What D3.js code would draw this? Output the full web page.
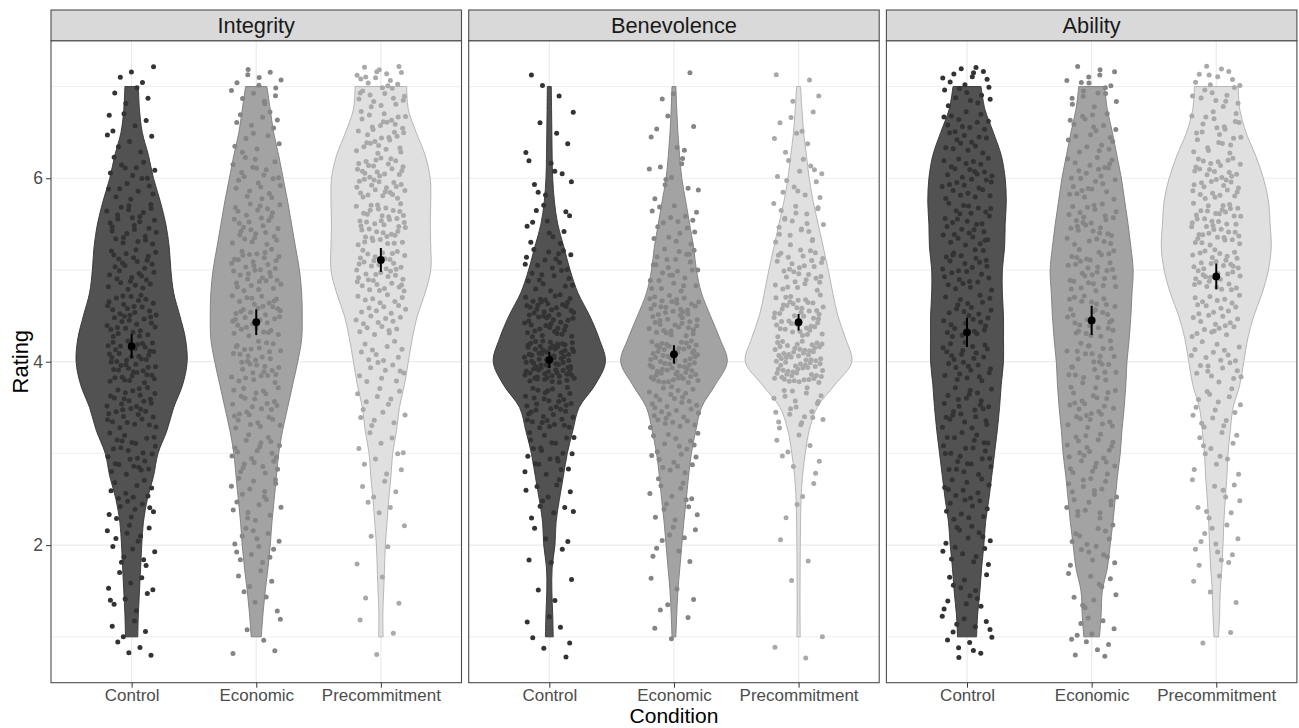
<!DOCTYPE html>
<html>
<head>
<meta charset="utf-8">
<script src="https://cdn.jsdelivr.net/npm/d3@7"></script>
<style>
  body { margin: 0; background: #fff; }
  text { font-family: "Liberation Sans", Arial, sans-serif; }
</style>
</head>
<body>
<div id="chart"></div>
<script>
// categorias y facetas
const conditions = ["Control", "Economic", "Precommitment"];
const traits = ["Integrity", "Benevolence", "Ability"];
const yTicks = [2, 4, 6];
const gridMinor = [1, 3, 5, 7];

// niveles de rating donde se leyo el ancho del violin (densidad relativa)
const ratingLevels = [1, 1.25, 1.5, 1.75, 2, 2.25, 2.5, 2.75, 3, 3.25, 3.5, 3.75, 4,
                      4.25, 4.5, 4.75, 5, 5.25, 5.5, 5.75, 6, 6.25, 6.5, 6.75, 7];

const densIntegrityControl = [.11,.12,.14,.16,.18,.21,.28,.39,.47,.63,.75,.91,.99,.96,.86,.75,.70,.67,.61,.51,.39,.30,.19,.14,.12];
const densIntegrityEconomic = [.09,.12,.16,.21,.25,.28,.32,.36,.40,.47,.56,.65,.74,.81,.82,.81,.77,.70,.63,.56,.48,.40,.31,.25,.19];
const densIntegrityPrecommitment = [.04,.035,.05,.065,.08,.11,.14,.18,.21,.28,.33,.42,.49,.56,.65,.79,.89,.89,.88,.89,.88,.79,.63,.49,.46];

const densBenevolenceControl = [.07,.06,.045,.05,.10,.12,.18,.25,.32,.42,.53,.82,1.0,.89,.72,.51,.37,.26,.15,.09,.06,.05,.045,.04,.035];
const densBenevolenceEconomic = [.035,.05,.07,.105,.14,.175,.22,.26,.31,.39,.49,.74,.95,.82,.65,.49,.40,.35,.28,.21,.14,.10,.07,.05,.035];
const densBenevolencePrecommitment = [.03,.026,.026,.028,.03,.035,.044,.07,.12,.19,.33,.65,.95,.84,.70,.61,.53,.44,.35,.26,.19,.14,.09,.06,.035];

const densAbilityControl = [.17,.19,.23,.26,.30,.33,.39,.44,.49,.54,.58,.61,.65,.65,.65,.63,.63,.67,.68,.70,.68,.61,.47,.32,.25];
const densAbilityEconomic = [.14,.17,.19,.28,.33,.38,.42,.46,.51,.54,.58,.61,.63,.67,.70,.72,.74,.70,.65,.59,.53,.45,.37,.28,.23];
const densAbilityPrecommitment = [.04,.06,.07,.10,.12,.135,.16,.19,.21,.25,.30,.42,.49,.56,.67,.82,.93,.98,.96,.93,.84,.70,.53,.42,.39];

// cantidad de respuestas por tramo de rating (centros de tramo)
const binCenters = [1, 1.5, 2, 2.5, 3, 3.5, 4, 4.5, 5, 5.5, 6, 6.5, 7];

const countIntegrityControl = [8, 10, 14, 18, 26, 34, 45, 38, 30, 28, 18, 10, 8];
const countIntegrityEconomic = [5, 8, 14, 18, 22, 28, 34, 38, 36, 30, 22, 14, 14];
const countIntegrityPrecommitment = [3, 3, 4, 7, 10, 14, 20, 28, 40, 42, 40, 32, 28];

const countBenevolenceControl = [7, 3, 6, 12, 22, 38, 75, 50, 25, 12, 8, 5, 3];
const countBenevolenceEconomic = [3, 5, 9, 14, 20, 32, 65, 45, 27, 17, 10, 6, 3];
const countBenevolencePrecommitment = [3, 1, 2, 4, 8, 22, 65, 45, 32, 22, 14, 8, 4];

const countAbilityControl = [14, 12, 16, 20, 24, 26, 28, 28, 28, 30, 30, 24, 20];
const countAbilityEconomic = [12, 10, 16, 20, 24, 27, 28, 30, 32, 30, 26, 20, 18];
const countAbilityPrecommitment = [2, 4, 12, 10, 12, 16, 22, 30, 38, 42, 36, 24, 20];

// media e intervalo (semi-ancho)
const meanIntegrity = [4.17, 4.43, 5.11];
const ciIntegrity = [0.13, 0.14, 0.13];
const meanBenevolence = [4.02, 4.08, 4.43];
const ciBenevolence = [0.09, 0.10, 0.09];
const meanAbility = [4.32, 4.45, 4.93];
const ciAbility = [0.16, 0.16, 0.14];

const densidades = {
  Integrity: [densIntegrityControl, densIntegrityEconomic, densIntegrityPrecommitment],
  Benevolence: [densBenevolenceControl, densBenevolenceEconomic, densBenevolencePrecommitment],
  Ability: [densAbilityControl, densAbilityEconomic, densAbilityPrecommitment]
};
const conteos = {
  Integrity: [countIntegrityControl, countIntegrityEconomic, countIntegrityPrecommitment],
  Benevolence: [countBenevolenceControl, countBenevolenceEconomic, countBenevolencePrecommitment],
  Ability: [countAbilityControl, countAbilityEconomic, countAbilityPrecommitment]
};
const medias = { Integrity: meanIntegrity, Benevolence: meanBenevolence, Ability: meanAbility };
const intervalos = { Integrity: ciIntegrity, Benevolence: ciBenevolence, Ability: ciAbility };

const fillColors = ["#525252", "#a3a3a3", "#e0e0e0"];
const lineColors = ["#333333", "#7d7d7d", "#b0b0b0"];
const pointColors = ["#333333", "#858585", "#a9a9a9"];

// layout
const width = 1299, height = 728;
const marginLeft = 51, panelW = 410.5, gap = 7.2;
const panelTop = 40.7, panelBottom = 682.7, stripTop = 10;

const svg = d3.select("#chart").append("svg")
  .attr("width", width)
  .attr("height", height);

const y = d3.scaleLinear().domain([0.5, 7.5]).range([panelBottom, panelTop]);
const x = d3.scalePoint().domain(conditions).range([0, panelW]).padding(0.647);
const w = d3.scaleLinear().domain([0, 1]).range([0, 0.45 * x.step()]);

// jitter deterministico (secuencia de Halton)
function halton(i, b) {
  let f = 1, r = 0;
  while (i > 0) { f /= b; r += f * (i % b); i = Math.floor(i / b); }
  return r;
}

traits.forEach((trait, p) => {
  const g = svg.append("g")
    .attr("transform", `translate(${marginLeft + p * (panelW + gap)},0)`);

  // grilla
  g.append("g").selectAll("line")
    .data(gridMinor).join("line")
    .attr("x1", 0).attr("x2", panelW)
    .attr("y1", d => y(d)).attr("y2", d => y(d))
    .attr("stroke", "#ebebeb").attr("stroke-width", 0.8);
  g.append("g").selectAll("line")
    .data(yTicks).join("line")
    .attr("x1", 0).attr("x2", panelW)
    .attr("y1", d => y(d)).attr("y2", d => y(d))
    .attr("stroke", "#ebebeb").attr("stroke-width", 1.2);
  g.append("g").selectAll("line")
    .data(conditions).join("line")
    .attr("x1", d => x(d)).attr("x2", d => x(d))
    .attr("y1", panelTop).attr("y2", panelBottom)
    .attr("stroke", "#ebebeb").attr("stroke-width", 1.2);

  // violines
  conditions.forEach((c, i) => {
    const cx = x(c);
    const perfil = ratingLevels.map((r, k) => ({ r: r, d: densidades[trait][i][k] }));
    const area = d3.area()
      .curve(d3.curveCatmullRom)
      .y(d => y(d.r))
      .x0(d => cx - w(d.d))
      .x1(d => cx + w(d.d));
    g.append("path")
      .datum(perfil)
      .attr("d", area)
      .attr("fill", fillColors[i])
      .attr("stroke", lineColors[i])
      .attr("stroke-width", 0.9);
  });

  // puntos
  conditions.forEach((c, i) => {
    const cx = x(c);
    const puntos = [];
    let h = 1 + p * 601 + i * 211;
    binCenters.forEach((v, b) => {
      const n = conteos[trait][i][b];
      for (let k = 0; k < n; k++) {
        puntos.push({
          r: v + (halton(h, 2) - 0.5) * 0.46,
          dx: (halton(h, 3) - 0.5) * 0.4 * x.step()
        });
        h++;
      }
    });
    g.append("g").selectAll("circle")
      .data(puntos).join("circle")
      .attr("cx", d => cx + d.dx)
      .attr("cy", d => y(d.r))
      .attr("r", 2.5)
      .attr("fill", pointColors[i]);
  });

  // media + intervalo
  g.append("g").selectAll("line")
    .data(conditions).join("line")
    .attr("x1", d => x(d)).attr("x2", d => x(d))
    .attr("y1", (d, i) => y(medias[trait][i] - intervalos[trait][i]))
    .attr("y2", (d, i) => y(medias[trait][i] + intervalos[trait][i]))
    .attr("stroke", "#000").attr("stroke-width", 2);
  g.append("g").selectAll("circle")
    .data(conditions).join("circle")
    .attr("cx", d => x(d))
    .attr("cy", (d, i) => y(medias[trait][i]))
    .attr("r", 3.9)
    .attr("fill", "#000");

  // borde panel
  g.append("rect")
    .attr("x", 0).attr("y", panelTop)
    .attr("width", panelW).attr("height", panelBottom - panelTop)
    .attr("fill", "none").attr("stroke", "#4d4d4d").attr("stroke-width", 1.1);

  // strip
  g.append("rect")
    .attr("x", 0).attr("y", stripTop)
    .attr("width", panelW).attr("height", panelTop - stripTop)
    .attr("fill", "#d9d9d9").attr("stroke", "#4d4d4d").attr("stroke-width", 1.1);
  g.append("text")
    .attr("x", panelW / 2).attr("y", 33)
    .attr("text-anchor", "middle")
    .attr("font-size", 21.8)
    .attr("fill", "#1a1a1a")
    .text(trait);

  // eje x
  const ax = g.append("g").attr("transform", `translate(0,${panelBottom})`)
    .call(d3.axisBottom(x).tickSize(5).tickPadding(1));
  ax.select(".domain").remove();
  ax.selectAll(".tick line").attr("stroke", "#333");
  ax.selectAll(".tick text")
    .attr("font-size", 17)
    .attr("fill", "#4d4d4d")
    .attr("font-family", "Liberation Sans, Arial, sans-serif");

  // eje y solo en el primer panel
  if (p === 0) {
    const ay = g.append("g")
      .call(d3.axisLeft(y).tickValues(yTicks).tickFormat(d3.format("d")).tickSize(5).tickPadding(3));
    ay.select(".domain").remove();
    ay.selectAll(".tick line").attr("stroke", "#333");
    ay.selectAll(".tick text")
      .attr("font-size", 17.5)
      .attr("fill", "#4d4d4d")
      .attr("font-family", "Liberation Sans, Arial, sans-serif");
  }
});

// titulos
svg.append("text")
  .attr("x", marginLeft + (3 * panelW + 2 * gap) / 2)
  .attr("y", 723.3)
  .attr("text-anchor", "middle")
  .attr("font-size", 21)
  .attr("fill", "#000")
  .text("Condition");

svg.append("text")
  .attr("transform", `translate(28,${(panelTop + panelBottom) / 2}) rotate(-90)`)
  .attr("text-anchor", "middle")
  .attr("font-size", 22)
  .attr("fill", "#000")
  .text("Rating");
</script>
</body>
</html>
